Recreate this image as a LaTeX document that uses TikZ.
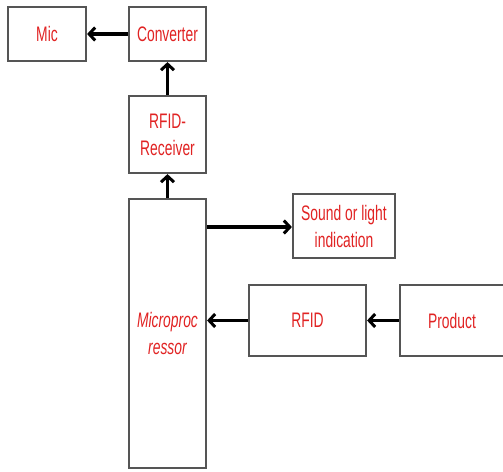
\documentclass[tikz,border=0pt]{standalone}
\usepackage{fontspec}
\setmainfont{Liberation Sans}[FakeStretch=0.66]
\usetikzlibrary{arrows.meta}
\definecolor{txtred}{RGB}{225,35,35}
\definecolor{boxgray}{RGB}{85,85,85}
\begin{document}
\begin{tikzpicture}[x=1pt,y=-1pt,
  blk/.style={draw=boxgray,line width=2.2pt,fill=white,text=txtred,font=\fontsize{21}{27}\selectfont,align=center,inner sep=0pt},
  conn/.style={line width=3.5pt,-{Straight Barb[length=6pt,width=13pt,line width=3pt]}}]
\useasboundingbox (0,0) rectangle (503,471);
\node[blk,minimum width=78pt,minimum height=54pt] (mic) at (47,34) {Mic};
\node[blk,minimum width=77pt,minimum height=54pt] (conv) at (167.5,34) {Converter};
\node[blk,minimum width=77pt,minimum height=77pt] (recv) at (167.5,134.5) {RFID-\\Receiver};
\node[blk,minimum width=77pt,minimum height=269pt] (mp) at (167.5,333.5) {\itshape Microproc\\\itshape ressor};
\node[blk,minimum width=102pt,minimum height=64pt] (snd) at (344,226) {Sound or light\\indication};
\node[blk,minimum width=117pt,minimum height=71pt] (rfid) at (307.5,320.5) {RFID};
\node[blk,minimum width=104pt,minimum height=71pt] (prod) at (452,320.5) {Product};
\draw[conn] (conv.west) -- (mic.east);
\draw[conn] (recv.north) -- (conv.south);
\draw[conn] (mp.north) -- (recv.south);
\draw[conn] (mp.east |- 0,227) -- (snd.west |- 0,227);
\draw[conn] (rfid.west) -- (mp.east |- rfid.west);
\draw[conn] (prod.west) -- (rfid.east);
\end{tikzpicture}
\end{document}
